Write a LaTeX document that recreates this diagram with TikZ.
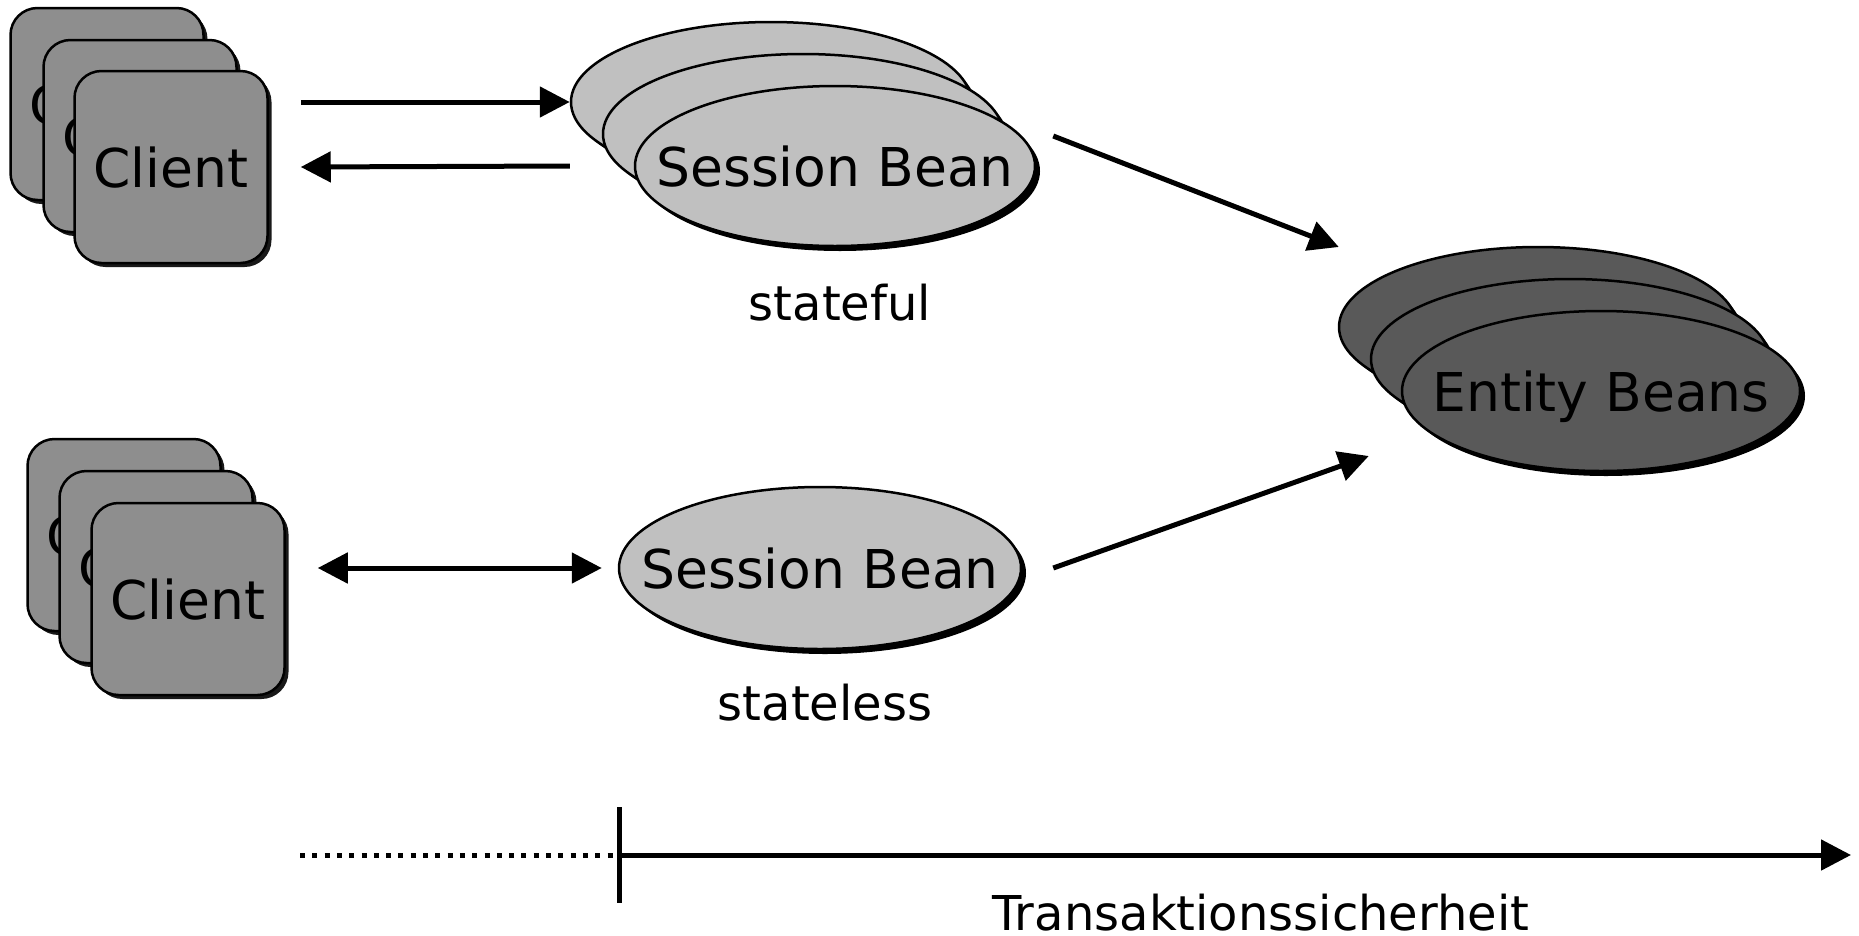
\documentclass[tikz,border=0pt]{standalone}
\usepackage{fontspec}
\setmainfont{DejaVu Sans}
\usetikzlibrary{shapes.geometric,arrows.meta,shadows}
\definecolor{cardgray}{HTML}{8E8E8E}
\definecolor{lightbean}{HTML}{C0C0C0}
\definecolor{darkbean}{HTML}{595959}
\begin{document}
\begin{tikzpicture}[x=1pt,y=-1pt,
  card/.style={draw=black, line width=2.5pt, fill=cardgray, rounded corners=27pt,
    minimum width=193pt, minimum height=192pt, inner sep=0pt,
    font=\fontsize{53.5}{60}\selectfont, text depth=0pt,
    drop shadow={shadow xshift=4pt, shadow yshift=-4pt, opacity=1, fill=black!90}},
  bean/.style={ellipse, draw=black, line width=2.5pt, inner sep=0pt,
    minimum width=400pt, minimum height=160pt,
    drop shadow={shadow xshift=5pt, shadow yshift=-5pt, opacity=1, fill=black}},
  lbean/.style={bean, fill=lightbean},
  dbean/.style={bean, fill=darkbean},
  bigtext/.style={inner sep=0pt, font=\fontsize{53.5}{60}\selectfont, text depth=0pt},
  lab/.style={inner sep=0pt, anchor=base, font=\fontsize{48}{56}\selectfont},
  arr/.style={line width=5pt, -{Triangle[length=30pt,width=30pt]}},
  darr/.style={line width=5pt, {Triangle[length=30pt,width=30pt]}-{Triangle[length=30pt,width=30pt]}}
]
\useasboundingbox (0,0) rectangle (1859,935);

% top client stack
\node[card] (cA1) at (107,104) {Client};
\node[card] (cA2) at (140,136) {Client};
\node[card] (cA3) at (171,167) {Client};

% bottom client stack
\node[card] (cB1) at (124,535) {Client};
\node[card] (cB2) at (156,567) {Client};
\node[card] (cB3) at (188,599) {Client};

% stateful session beans
\node[lbean] (sA1) at (771,102) {};
\node[lbean] (sA2) at (803,134) {};
\node[lbean] (sA3) at (835,166) {};
\node[bigtext] (tA) at (sA3) {Session Bean};

% stateless session bean
\node[lbean, minimum width=402pt, minimum height=162pt] (sB) at (820,568) {};
\node[bigtext] (tB) at (sB) {Session Bean};

% entity beans
\node[dbean, minimum width=398pt] (eB1) at (1538,327) {};
\node[dbean, minimum width=398pt] (eB2) at (1570,359) {};
\node[dbean, minimum width=398pt] (eB3) at (1601,391) {};
\node[bigtext] (tE) at (eB3) {Entity Beans};

% labels
\node[lab] (lA) at (840,320) {stateful};
\node[lab] (lB) at (825,720) {stateless};
\node[lab] (lT) at (1261,930) {Transaktionssicherheit};

% connectors
\draw[arr] ([shift={(32,0)}]cA3.east |- sA1.west) -- (sA1.west);
\draw[arr] (sA1.west |- sA3.center) -- ([shift={(32,0)}]cA3.east);
\draw[arr] ([shift={(17,-30)}]sA3.east) -- ([shift={(1,-80)}]eB1.west);
\draw[arr] ([shift={(31,0)}]sB.east) -- ([shift={(-32,65)}]eB3.west);
\draw[darr] ([shift={(32,0)}]cB3.east |- sB.west) -- ([shift={(-16,0)}]sB.west);

% axis
\coordinate (ax0) at (300,855);
\coordinate (axT) at (619,855);
\coordinate (axE) at (1851,855);
\coordinate (tk1) at (619,807);
\coordinate (tk2) at (619,903);
\draw[line width=5pt, dash pattern=on 5pt off 7.3pt] (ax0) -- (axT);
\draw[line width=5pt] (tk1) -- (tk2);
\draw[arr] (axT) -- (axE);
\end{tikzpicture}
\end{document}
